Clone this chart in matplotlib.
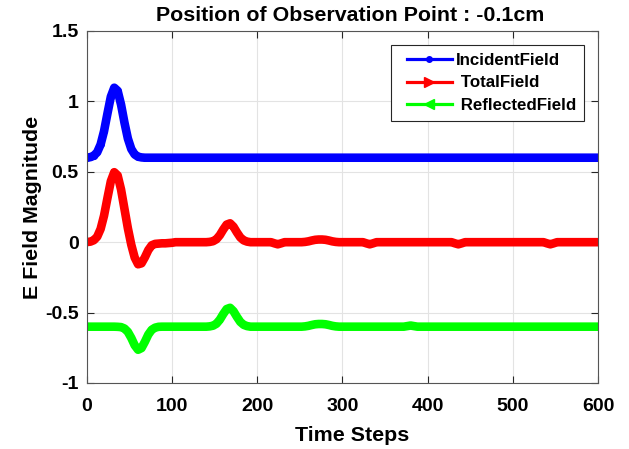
import numpy as np
import matplotlib.pyplot as plt
from matplotlib.lines import Line2D
from matplotlib.legend_handler import HandlerLine2D

# time axis, sampled every 4 steps
time_steps = np.arange(0, 601, 4)

# incident pulse at the observation point
incident_field = ([0.601, 0.604, 0.614, 0.639, 0.694, 0.788, 0.913, 1.033, 1.097,
                   1.075, 0.977, 0.849, 0.736, 0.662, 0.623, 0.607, 0.602, 0.600]
                  + [0.600] * 133)

# total field = incident + reflected
total_field = ([0.001, 0.004, 0.014, 0.039, 0.094, 0.188, 0.313, 0.433, 0.497]
               + [0.474, 0.374, 0.236, 0.099, -0.018, -0.109, -0.157, -0.150, -0.107,
                  -0.056, -0.022, -0.012, -0.010, -0.008, -0.008, -0.006, -0.004]
               + [0.0] * 10
               + [0.002, 0.007, 0.021, 0.050, 0.090, 0.125, 0.134, 0.110, 0.070,
                  0.034, 0.013, 0.004]
               + [0.0] * 7
               + [-0.008, -0.015, -0.008]
               + [0.0] * 6
               + [0.002, 0.006, 0.012, 0.017, 0.019, 0.019, 0.017, 0.012, 0.006, 0.002]
               + [0.0] * 8
               + [-0.008, -0.015, -0.008]
               + [0.0] * 23
               + [-0.008, -0.015, -0.008]
               + [0.0] * 24
               + [-0.008, -0.015, -0.008]
               + [0.0] * 13)

# reflected field, shifted down by 0.6
reflected_field = ([-0.600] * 9
                   + [-0.601, -0.603, -0.613, -0.637, -0.680, -0.732, -0.764, -0.752,
                      -0.707, -0.656, -0.622, -0.607, -0.601]
                   + [-0.600] * 14
                   + [-0.598, -0.593, -0.579, -0.550, -0.510, -0.475, -0.466, -0.490,
                      -0.530, -0.566, -0.587, -0.596]
                   + [-0.600] * 16
                   + [-0.598, -0.594, -0.588, -0.583, -0.581, -0.581, -0.583, -0.588,
                      -0.594, -0.598]
                   + [-0.600] * 20
                   + [-0.596, -0.592, -0.596]
                   + [-0.600] * 54)

labels = ['IncidentField', ' TotalField', ' ReflectedField']
x_ticks = [0, 100, 200, 300, 400, 500, 600]
y_ticks = [-1, -0.5, 0, 0.5, 1, 1.5]
y_tick_labels = ['-1', '-0.5', '0', '0.5', '1', '1.5']


class PaddedLineHandler(HandlerLine2D):
    # leaves a gap between the legend frame and the sample line
    def create_artists(self, legend, orig_handle, xdescent, ydescent,
                       width, height, fontsize, trans):
        pad = 0.4 * fontsize
        return super().create_artists(legend, orig_handle, xdescent - pad,
                                      ydescent, width - pad, height,
                                      fontsize, trans)


plt.rcParams['font.family'] = ['Liberation Sans', 'DejaVu Sans']
plt.rcParams['font.weight'] = 'bold'

fig = plt.figure(figsize=(6.29, 4.49), dpi=100)
ax = fig.add_axes([0.1383, 0.147, 0.8124, 0.784])

# thick band under the markers so the dense marker trail reads as one stroke
styles = [(incident_field, '#0000ff', 'o'),
          (total_field, '#ff0000', '>'),
          (reflected_field, '#00ff00', '<')]
for series, col, mk in styles:
    ax.plot(time_steps, series, '-', color=col, lw=6.2,
            solid_joinstyle='round', solid_capstyle='round',
            marker=mk, ms=5, mec=col, mew=0)

ax.set_xlim(0, 600)
ax.set_ylim(-1, 1.5)
ax.set_xticks(x_ticks)
ax.set_yticks(y_ticks)
ax.set_yticklabels(y_tick_labels)
ax.grid(True, color='#e3e3e3', lw=0.8)
ax.set_axisbelow(True)
ax.tick_params(direction='in', length=5, width=0.8, top=True, right=True,
               labelsize=14, colors='#262626', pad=6)
ax.tick_params(axis='x', pad=11)
for lbl in ax.get_xticklabels() + ax.get_yticklabels():
    lbl.set_fontweight('bold')
    lbl.set_color('black')
for sp in ax.spines.values():
    sp.set_color('#555555')
    sp.set_linewidth(0.8)

ax.set_title('Position of Observation Point : -0.1cm', fontsize=15.4,
             fontweight='bold', pad=7, x=0.515)
ax.set_xlabel('Time Steps', fontsize=15.4, fontweight='bold')
ax.xaxis.set_label_coords(0.518, -0.122)
ax.set_ylabel('E Field Magnitude', fontsize=15.4, fontweight='bold', labelpad=2)

# legend handles with smaller markers
handles = [
    Line2D([], [], color='#0000ff', lw=2.3, marker='o', ms=4),
    Line2D([], [], color='#ff0000', lw=2.3, marker='>', ms=7),
    Line2D([], [], color='#00ff00', lw=2.3, marker='<', ms=7),
]
leg = ax.legend(handles, labels, loc='upper right',
                prop={'weight': 'bold', 'size': 12.2}, handlelength=3.1,
                handletextpad=0.2, labelspacing=0.44, borderaxespad=0.8,
                borderpad=0.5, fancybox=False, framealpha=1,
                edgecolor='#262626',
                handler_map={Line2D: PaddedLineHandler()})
leg.get_frame().set_linewidth(0.8)

fig.savefig('out.png', dpi=100)
